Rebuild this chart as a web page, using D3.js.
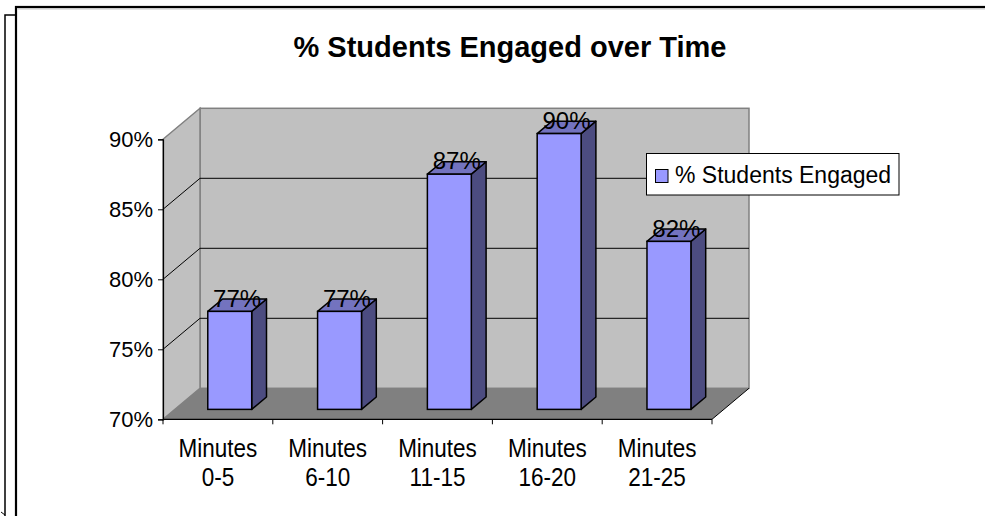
<!DOCTYPE html>
<html>
<head>
<meta charset="utf-8">
<script src="https://cdn.jsdelivr.net/npm/d3@7"></script>
<style>
  html, body { margin: 0; padding: 0; background: #fff; }
  svg { display: block; font-family: "Liberation Sans", Arial, sans-serif; }
</style>
</head>
<body>
<svg id="chart" width="985" height="516"></svg>
<script>
// ---- data ----
const categories = ["Minutes 0-5", "Minutes 6-10", "Minutes 11-15", "Minutes 16-20", "Minutes 21-25"];
const categoryLines = [["Minutes", "0-5"], ["Minutes", "6-10"], ["Minutes", "11-15"], ["Minutes", "16-20"], ["Minutes", "21-25"]];
const engaged = [0.77, 0.77, 0.868, 0.897, 0.82];
const yTicks = [0.70, 0.75, 0.80, 0.85, 0.90];
const seriesName = "% Students Engaged";
const chartTitle = "% Students Engaged over Time";

// ---- layout ----
const svg = d3.select("#chart");
const X0 = 163, X1 = 712;
const DX = 37, DY = 31;        // depth projection
const Z0 = 0.32, Z1 = 0.72;    // bar depth span
const fmt = d3.format(".0%");

const x = d3.scaleBand().domain(categories).range([X0, X1]).padding(0);
const y = d3.scaleLinear().domain([0.70, 0.90]).range([419.3, 139.3]);
const yBase = y(0.70), yTop = y(0.90);

// frames
svg.append("path").attr("d", "M5,516 L5,15 L16,15").attr("fill", "none").attr("stroke", "#000").attr("stroke-width", 1.5);
svg.append("path").attr("d", "M1,512 L5,515").attr("stroke", "#000").attr("stroke-width", 1);
svg.append("rect").attr("x", 16).attr("y", 7).attr("width", 1000).attr("height", 560)
  .attr("fill", "#fff").attr("stroke", "#000").attr("stroke-width", 2.2);
svg.append("line").attr("x1", 17.5).attr("x2", 985).attr("y1", 8.9).attr("y2", 8.9).attr("stroke", "#bbb").attr("stroke-width", 1);

// title
svg.append("text").attr("x", 510).attr("y", 57).attr("text-anchor", "middle")
  .attr("font-size", 29).attr("font-weight", "bold").attr("fill", "#000").text(chartTitle);

// back wall
svg.append("rect").attr("x", X0 + DX).attr("y", yTop - DY).attr("width", X1 - X0).attr("height", yBase - yTop)
  .attr("fill", "#c0c0c0").attr("stroke", "#808080").attr("stroke-width", 1.5);
// side wall
svg.append("polygon")
  .attr("points", [[X0, yTop], [X0 + DX, yTop - DY], [X0 + DX, yBase - DY], [X0, yBase]].map(p => p.join(",")).join(" "))
  .attr("fill", "#c0c0c0").attr("stroke", "#808080").attr("stroke-width", 1.5);
// floor
svg.append("polygon")
  .attr("points", [[X0, yBase], [X0 + DX, yBase - DY], [X1 + DX, yBase - DY], [X1, yBase]].map(p => p.join(",")).join(" "))
  .attr("fill", "#808080").attr("stroke", "none");
svg.append("line").attr("x1", X1).attr("y1", yBase).attr("x2", X1 + DX).attr("y2", yBase - DY)
  .attr("stroke", "#000").attr("stroke-width", 1);

// gridlines
const inner = yTicks.filter(t => t > 0.70 && t < 0.90);
svg.append("g").selectAll("path").data(inner).join("path")
  .attr("d", t => `M${X0},${y(t)} L${X0 + DX},${y(t) - DY} L${X1 + DX},${y(t) - DY}`)
  .attr("fill", "none").attr("stroke", "#000").attr("stroke-width", 1);

// y axis
const yAxis = svg.append("g").attr("transform", `translate(${X0},0)`)
  .call(d3.axisLeft(y).tickValues(yTicks).tickSize(5).tickPadding(5).tickFormat(fmt));
yAxis.select(".domain").attr("stroke", "#000").attr("stroke-width", 1.2);
yAxis.selectAll(".tick line").attr("stroke", "#000");
yAxis.selectAll(".tick text").attr("font-size", 22).attr("font-family", "Liberation Sans, Arial, sans-serif").attr("fill", "#000");

// x axis
svg.append("line").attr("x1", X0).attr("x2", X1).attr("y1", yBase).attr("y2", yBase).attr("stroke", "#000").attr("stroke-width", 1.2);
const bounds = categories.map(c => x(c)).concat([x(categories[categories.length - 1]) + x.bandwidth()]);
svg.append("g").selectAll("line").data(bounds).join("line")
  .attr("x1", d => d).attr("x2", d => d).attr("y1", yBase).attr("y2", yBase + 5)
  .attr("stroke", "#000").attr("stroke-width", 1);
const xl = svg.append("g").selectAll("text").data(categories).join("text")
  .attr("transform", d => `translate(${x(d) + x.bandwidth() / 2},0) scale(0.9,1)`)
  .attr("text-anchor", "middle")
  .attr("font-size", 25).attr("fill", "#000");
xl.each(function (d, i) {
  const t = d3.select(this);
  categoryLines[i].forEach((ln, j) => {
    t.append("tspan").attr("x", 0).attr("y", 457 + j * 29).text(ln);
  });
});

// bars
const bw = x.bandwidth() * 0.4;
const bars = svg.append("g");
categories.forEach((c, i) => {
  const v = engaged[i];
  const fx = x(c) + x.bandwidth() / 2 - bw / 2 + Z0 * DX;
  const fyB = yBase - Z0 * DY;
  const fyT = y(v) - Z0 * DY;
  const ddx = (Z1 - Z0) * DX, ddy = (Z1 - Z0) * DY;
  const g = bars.append("g");
  g.append("polygon")
    .attr("points", [[fx + bw, fyT], [fx + bw + ddx, fyT - ddy], [fx + bw + ddx, fyB - ddy], [fx + bw, fyB]].map(p => p.join(",")).join(" "))
    .attr("fill", "#4c4c80").attr("stroke", "#000").attr("stroke-width", 1.5).attr("stroke-linejoin", "round");
  g.append("polygon")
    .attr("points", [[fx, fyT], [fx + ddx, fyT - ddy], [fx + bw + ddx, fyT - ddy], [fx + bw, fyT]].map(p => p.join(",")).join(" "))
    .attr("fill", "#7373bf").attr("stroke", "#000").attr("stroke-width", 1.5).attr("stroke-linejoin", "round");
  g.append("rect").attr("x", fx).attr("y", fyT).attr("width", bw).attr("height", fyB - fyT)
    .attr("fill", "#9999ff").attr("stroke", "#000").attr("stroke-width", 1.5);
  // label
  svg.append("text").attr("x", fx + bw / 2 + ddx / 2).attr("y", fyT - ddy / 2 + 1.5)
    .attr("text-anchor", "middle").attr("font-size", 24).attr("fill", "#000").text(fmt(v));
});

// legend
const lg = svg.append("g");
lg.append("rect").attr("x", 646.5).attr("y", 153.5).attr("width", 252.5).attr("height", 41.5)
  .attr("fill", "#fff").attr("stroke", "#000").attr("stroke-width", 1);
lg.append("rect").attr("x", 655.5).attr("y", 169.5).attr("width", 12.5).attr("height", 13)
  .attr("fill", "#9999ff").attr("stroke", "#000").attr("stroke-width", 1);
lg.append("text").attr("x", 675).attr("y", 183).attr("font-size", 23).attr("fill", "#000").text(seriesName);
</script>
</body>
</html>
